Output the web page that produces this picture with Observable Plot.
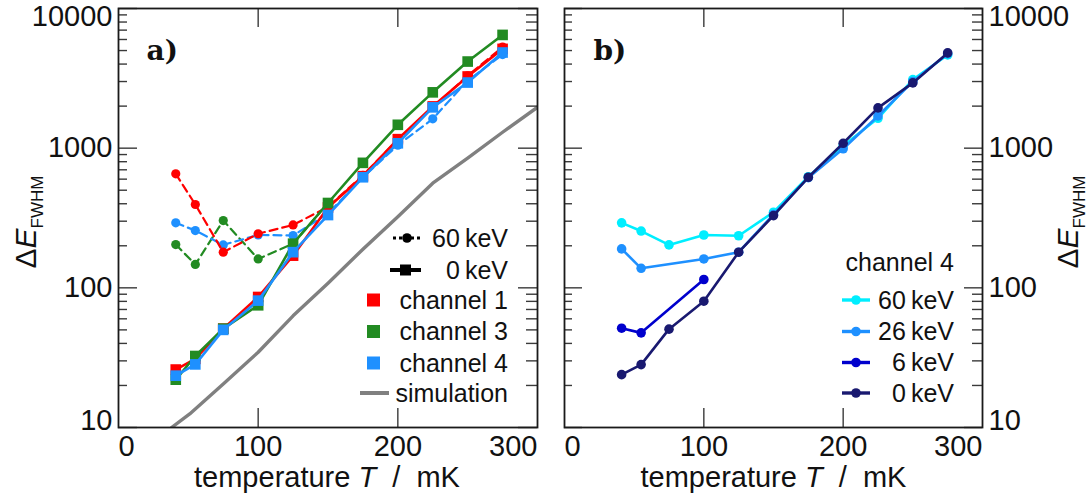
<!DOCTYPE html>
<html><head><meta charset="utf-8">
<script src="https://cdn.jsdelivr.net/npm/d3@7"></script>
<script src="https://cdn.jsdelivr.net/npm/@observablehq/plot@0.6"></script>
<style>
body{margin:0;background:#fff;}
#wrap{display:flex;width:1091px;height:502px;overflow:hidden;}
svg{font-family:"Liberation Sans",Arial,sans-serif;}
</style></head><body><div id="wrap"></div>
<script>
// ---------- data ----------
const temperature = [41, 55, 75, 100, 125, 150, 175, 200, 225, 250, 275];
// panel a) 0 keV (solid, squares)
const ch1_0keV = [26, 31, 51, 86, 170, 376, 630, 1160, 1990, 3260, 5140];
const ch3_0keV = [22, 32.5, 51, 75, 207, 405, 785, 1470, 2510, 4170, 6470];
const ch4_0keV = [23.5, 28.3, 50, 81, 180, 332, 619, 1084, 1960, 2950, 4840];
// panel a) 60 keV (dashed, circles)
const ch1_60keV = [655, 395, 180, 244, 282, 380, 640, 1150, 1960, 3300, 5300];
const ch3_60keV_T = [41, 55, 75, 100, 125, 150];
const ch3_60keV = [204, 147, 303, 161, 207, 405];
const ch4_60keV = [292, 257, 203, 239, 237, 340, 619, 1050, 1622, 3048, 4680];
// simulation
const simT = [38, 51, 75, 100, 125, 150, 175, 200, 225, 250, 275, 300];
const simV = [10, 12.5, 20.5, 34.6, 63, 108, 189, 323, 561, 848, 1300, 1963];
// panel b) channel 4
const k60_T = [41, 55, 75, 100, 125, 150, 175, 200, 225, 250, 275];
const k60 = [292, 255, 203, 239, 236, 348, 625, 1040, 1637, 3100, 4650];
const k26_T = [41, 55, 100, 125, 150, 175, 200, 225, 250, 275];
const k26 = [190, 138, 161, 180, 335, 615, 990, 1700, 3000, 4750];
const k6_T = [41, 55, 100];
const k6 = [51.4, 47.6, 114.7];
const k0_T = [41, 55, 75, 100, 125, 150, 175, 200, 225, 250, 275];
const k0 = [23.9, 28.2, 50.6, 80.2, 180, 329, 619, 1084, 1942, 2933, 4810];
// ticks
const xTicks = [0, 100, 200, 300];
const yTicks = [10, 100, 1000, 10000];
const yMinor = [20,30,40,50,60,70,80,90,200,300,400,500,600,700,800,900,2000,3000,4000,5000,6000,7000,8000,9000];

// ---------- helpers ----------
const rows = (T, V) => T.map((t, i) => ({t, v: V[i]}));
const H = 502, MT = 8, MB = 75, FW = 419, FH = H - MT - MB;
const FONT = "Liberation Sans, Arial, sans-serif";
const TICKC = "#3a3a3a";

function tickMarks() {
  const s = {stroke: TICKC, strokeWidth: 1.4};
  return [
    Plot.tickY(yMinor, {y: d => d, insetRight: FW - 9, ...s}),
    Plot.tickY(yMinor, {y: d => d, insetLeft: FW - 11, ...s}),
    Plot.tickY(yTicks, {y: d => d, insetRight: FW - 19, ...s}),
    Plot.tickY(yTicks, {y: d => d, insetLeft: FW - 19, ...s}),
    Plot.tickX([100, 200], {x: d => d, insetTop: FH - 19, ...s}),
    Plot.tickX([100, 200], {x: d => d, insetBottom: FH - 19, ...s}),
    Plot.frame({stroke: "#1a1a1a", strokeWidth: 1.8})
  ];
}
function xLabels() {
  const s = {frameAnchor: "bottom", lineAnchor: "top", dy: 8, fontSize: 29, fill: "#111"};
  return [
    Plot.text([100, 200], {x: d => d, text: d => String(d), ...s}),
    Plot.text([0], {x: d => d, text: d => String(d), textAnchor: "start", ...s}),
    Plot.text([300], {x: d => d, text: d => String(d), textAnchor: "end", ...s})
  ];
}
function yLabels(side) {
  const s = side === "left"
    ? {frameAnchor: "left", textAnchor: "end", dx: -6, fontSize: 29, fill: "#111"}
    : {frameAnchor: "right", textAnchor: "start", dx: 6, fontSize: 29, fill: "#111"};
  return [
    Plot.text([100, 1000], {y: d => d, text: d => String(d), ...s}),
    Plot.text([10000], {y: d => d, text: d => String(d), dy: 8, ...s}),
    Plot.text([10], {y: d => d, text: d => String(d), dy: -7, ...s})
  ];
}
function series(T, V, color, {dash = null, symbol = "circle", r = 4.6, sw = 2.4} = {}) {
  const d = rows(T, V);
  return [
    Plot.line(d, {x: "t", y: "v", stroke: color, strokeWidth: sw, strokeDasharray: dash}),
    Plot.dot(d, {x: "t", y: "v", fill: color, symbol, r})
  ];
}
function panel(width, marginLeft, marginRight, marks) {
  return Plot.plot({
    width, height: H, marginLeft, marginRight, marginTop: MT, marginBottom: MB,
    x: {domain: [0, 300], axis: null},
    y: {type: "log", domain: [10, 10000], axis: null},
    style: {fontFamily: FONT, background: "white", overflow: "visible"},
    marks
  });
}
function yTitle(svg, x, y) {
  const t = d3.select(svg).append("text")
    .attr("transform", `translate(${x},${y}) rotate(-90)`)
    .attr("text-anchor", "middle").style("font-family", FONT).attr("fill", "#111");
  t.append("tspan").style("font-size", "30px").text("Δ");
  t.append("tspan").style("font-size", "30px").style("font-style", "italic").text("E");
  t.append("tspan").style("font-size", "17px").attr("dy", 7).text("FWHM");
}
function xTitle(svg, x, y) {
  const t = d3.select(svg).append("text").attr("x", x).attr("y", y)
    .attr("text-anchor", "middle").attr("dy", "0.35em")
    .style("font-family", FONT).style("font-size", "29px").style("white-space", "pre").attr("fill", "#111");
  t.append("tspan").text("temperature ");
  t.append("tspan").style("font-style", "italic").text("T");
  t.append("tspan").text("  /  mK");
}
function ltext(g, x, y, s, size = 25) {
  g.append("text").attr("x", x).attr("y", y).attr("dy", "0.35em").attr("text-anchor", "end")
    .style("font-family", FONT).style("font-size", size + "px").attr("fill", "#111").text(s);
}

// ---------- panel a ----------
const mkS = {symbol: "square", r: 6.0, sw: 2.6};
const mkC = {symbol: "circle", r: 4.6, sw: 2.2, dash: "8,5"};
const left = panel(545, 118, 8, [
  Plot.line(rows(simT, simV), {x: "t", y: "v", stroke: "#808080", strokeWidth: 3.4, clip: true}),
  ...series(ch3_60keV_T, ch3_60keV, "#228b22", mkC),
  ...series(temperature, ch4_60keV, "#1e90ff", mkC),
  ...series(temperature, ch1_60keV, "#ff0000", mkC),
  ...series(temperature, ch1_0keV, "#ff0000", mkS),
  ...series(temperature, ch3_0keV, "#228b22", mkS),
  ...series(temperature, ch4_0keV, "#1e90ff", mkS),
  ...tickMarks(),
  ...xLabels(),
  ...yLabels("left"),
  Plot.text(["a)"], {frameAnchor: "top-left", textAnchor: "start", lineAnchor: "middle", dx: 28, dy: 43,
    fontFamily: "DejaVu Serif", fontWeight: "bold", fontSize: 28, fill: "#111"})
]);
yTitle(left, 36, 222);
xTitle(left, 327, 477);
{
  const g = d3.select(left).append("g");
  // 60 keV: dotted line with circle
  g.append("line").attr("x1", 393).attr("x2", 421).attr("y1", 238).attr("y2", 238)
    .attr("stroke", "#000").attr("stroke-width", 3).attr("stroke-dasharray", "3,3");
  g.append("circle").attr("cx", 407).attr("cy", 238).attr("r", 4.8).attr("fill", "#000");
  ltext(g, 508, 238, "60\u2009keV");
  // 0 keV: solid line with square
  g.append("line").attr("x1", 390).attr("x2", 421).attr("y1", 270).attr("y2", 270)
    .attr("stroke", "#000").attr("stroke-width", 4);
  g.append("rect").attr("x", 400).attr("y", 264.5).attr("width", 11).attr("height", 11).attr("fill", "#000");
  ltext(g, 508, 270, "0\u2009keV");
  [["channel 1", "#ff0000", 300], ["channel 3", "#228b22", 331.5], ["channel 4", "#1e90ff", 363]].forEach(([s, c, y]) => {
    g.append("rect").attr("x", 367).attr("y", y - 6.5).attr("width", 13).attr("height", 13).attr("fill", c);
    ltext(g, 508, y, s);
  });
  g.append("line").attr("x1", 360).attr("x2", 389).attr("y1", 393).attr("y2", 393)
    .attr("stroke", "#808080").attr("stroke-width", 4);
  ltext(g, 508, 393, "simulation");
}

// ---------- panel b ----------
const cols = {k60: "#00eeff", k26: "#1e90ff", k6: "#0000cd", k0: "#191970"};
const mkB = {symbol: "circle", r: 4.8, sw: 2.6};
const right = panel(546, 19, 109, [
  ...series(k60_T, k60, cols.k60, mkB),
  ...series(k26_T, k26, cols.k26, mkB),
  ...series(k6_T, k6, cols.k6, mkB),
  ...series(k0_T, k0, cols.k0, mkB),
  ...tickMarks(),
  ...xLabels(),
  ...yLabels("right"),
  Plot.text(["b)"], {frameAnchor: "top-left", textAnchor: "start", lineAnchor: "middle", dx: 29, dy: 43,
    fontFamily: "DejaVu Serif", fontWeight: "bold", fontSize: 28, fill: "#111"})
]);
yTitle(right, 533, 222);
xTitle(right, 19 + FW / 2, 477);
{
  const g = d3.select(right).append("g");
  const ox = 545;
  ltext(g, 954 - ox, 262, "channel 4");
  [["60\u2009keV", cols.k60, 300], ["26\u2009keV", cols.k26, 331.5], ["6\u2009keV", cols.k6, 362.5], ["0\u2009keV", cols.k0, 393]].forEach(([s, c, y]) => {
    g.append("line").attr("x1", 842 - ox).attr("x2", 870 - ox).attr("y1", y).attr("y2", y)
      .attr("stroke", c).attr("stroke-width", 3.4);
    g.append("circle").attr("cx", 856 - ox).attr("cy", y).attr("r", 4.8).attr("fill", c);
    ltext(g, 954 - ox, y, s);
  });
}

const wrap = document.getElementById("wrap");
wrap.appendChild(left);
wrap.appendChild(right);
</script>
</body></html>
